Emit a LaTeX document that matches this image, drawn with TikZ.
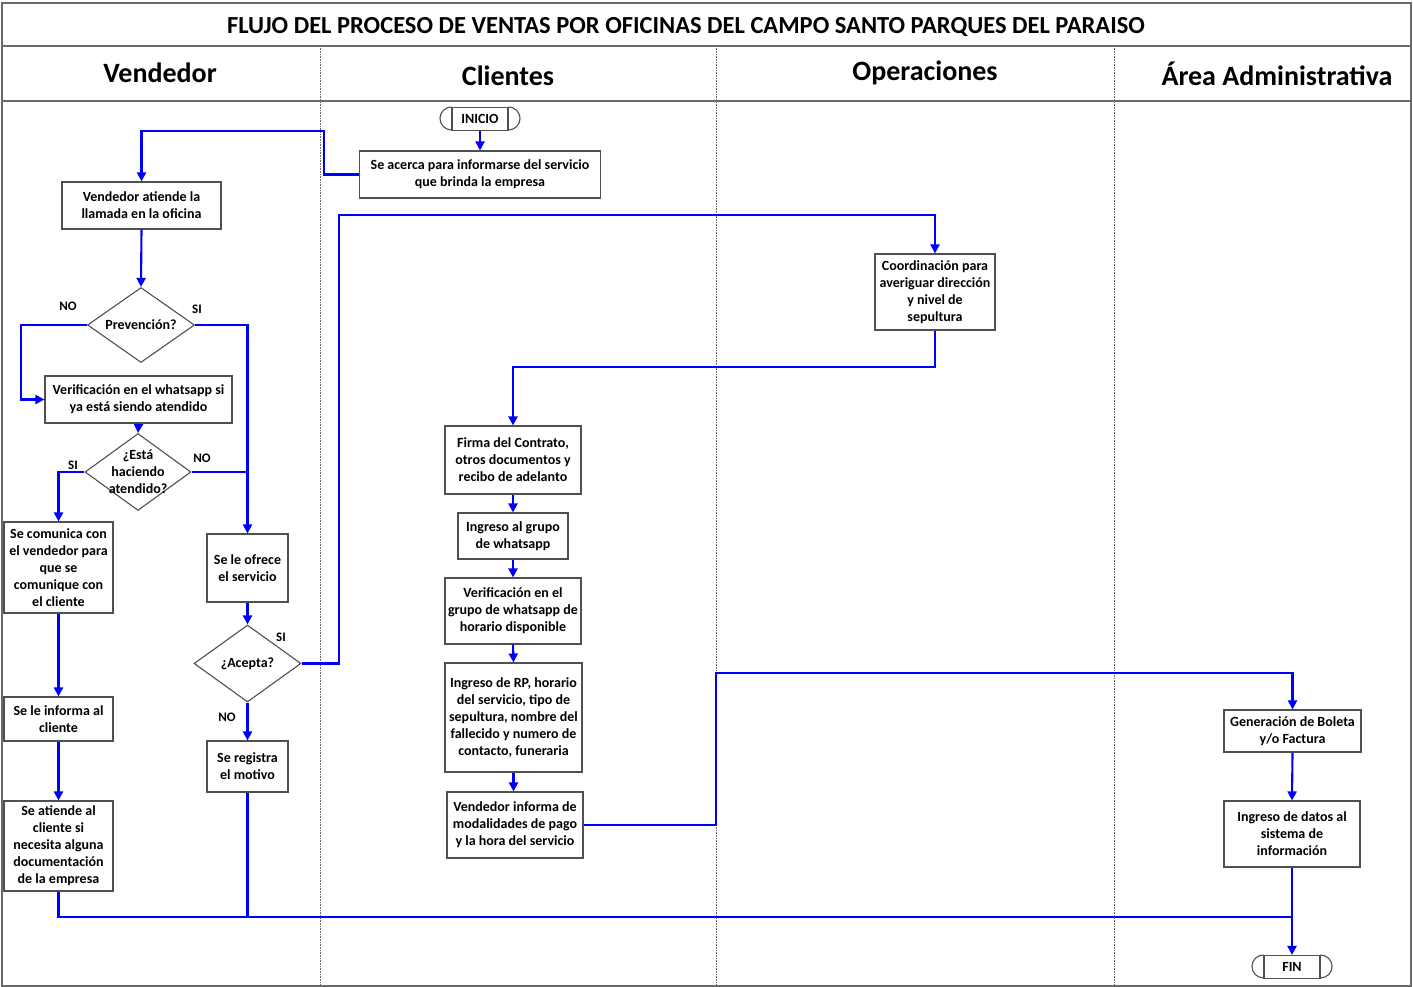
\documentclass[tikz,border=0pt]{standalone}
\usepackage{fontspec}
\setmainfont{Carlito}
\usetikzlibrary{arrows.meta,shapes.geometric}
\definecolor{boxline}{HTML}{505050}
\definecolor{frameline}{HTML}{6A6A6A}
\definecolor{flowblue}{RGB}{0,0,255}
\begin{document}
\begin{tikzpicture}[x=1pt,y=-1pt,
  txt/.style={font=\bfseries\fontsize{14}{17}\selectfont, align=center},
  box/.style={txt, draw=boxline, line width=1.1pt, fill=white, inner sep=0pt},
  dec/.style={draw=boxline, line width=1.1pt, fill=white, diamond, inner sep=0pt},
  term/.style={box, minimum width=56, minimum height=23},
  termcap/.style={draw=boxline, line width=1.1pt},
  lab/.style={font=\bfseries\fontsize{13}{15}\selectfont},
  head/.style={font=\bfseries\fontsize{28}{32}\selectfont},
  conn/.style={draw=flowblue, line width=2.1pt},
  arr/.style={conn, -{Triangle[length=9pt,width=9pt]}},
  lane/.style={draw=frameline, line width=0.6pt, densely dotted},
]
\useasboundingbox (0,0) rectangle (1413,987);

% frame, title row and lane headers
\draw[frameline, line width=1.2pt] (2,3) rectangle (1411,986);
\draw[frameline, line width=1.2pt] (2,46) -- (1411,46);
\draw[frameline, line width=1.2pt] (2,101) -- (1411,101);
\foreach \lx in {320,716,1114} \draw[lane] (\lx,46) -- (\lx,986);
\node[font=\bfseries\fontsize{24.5}{28}\selectfont] (title) at (686,27) {FLUJO DEL PROCESO DE VENTAS POR OFICINAS DEL CAMPO SANTO PARQUES DEL PARAISO};
\node[head] (hven) at (160,73) {Vendedor};
\node[head] (hcli) at (508,76) {Clientes};
\node[head] (hope) at (925,73) {Operaciones};
\node[head] (hadm) at (1277,74) {Área Administrativa};

% terminators: box with half-round caps on both sides
\node[term] (ini) at (480,119) {INICIO};
\draw[termcap] (ini.north west) arc[start angle=270,end angle=90,radius=11.5];
\draw[termcap] (ini.north east) arc[start angle=-90,end angle=90,radius=11.5];
\node[term] (fin) at (1292,967) {FIN};
\draw[termcap] (fin.north west) arc[start angle=270,end angle=90,radius=11.5];
\draw[termcap] (fin.north east) arc[start angle=-90,end angle=90,radius=11.5];

% process boxes
\node[box, minimum width=241, minimum height=47] (aca) at (480,174.5) {Se acerca para informarse del servicio\\que brinda la empresa};
\node[box, minimum width=159, minimum height=47] (ven) at (141.5,205.5) {Vendedor atiende la\\llamada en la oficina};
\node[box, minimum width=187, minimum height=47] (wsp) at (138.5,399.5) {Verificación en el whatsapp si\\ya está siendo atendido};
\node[box, minimum width=109, minimum height=91] (com) at (58.5,567.5) {Se comunica con\\el vendedor para\\que se\\comunique con\\el cliente};
\node[box, minimum width=81, minimum height=68] (ofr) at (247.5,568) {Se le ofrece\\el servicio};
\node[box, minimum width=81, minimum height=51] (reg) at (247.5,766.5) {Se registra\\el motivo};
\node[box, minimum width=109, minimum height=44] (inf) at (58.5,719) {Se le informa al\\cliente};
\node[box, minimum width=109, minimum height=90] (ate) at (58.5,846) {Se atiende al\\cliente si\\necesita alguna\\documentación\\de la empresa};
\node[box, minimum width=120, minimum height=76] (coo) at (935,292) {Coordinación para\\averiguar dirección\\y nivel de\\sepultura};
\node[box, minimum width=136, minimum height=68] (fir) at (513,460) {Firma del Contrato,\\otros documentos y\\recibo de adelanto};
\node[box, minimum width=110, minimum height=46] (gru) at (513,536) {Ingreso al grupo\\de whatsapp};
\node[box, minimum width=136, minimum height=66] (vgr) at (513,611) {Verificación en el\\grupo de whatsapp de\\horario disponible};
\node[box, minimum width=137, minimum height=109] (rp) at (513.5,717.5) {Ingreso de RP, horario\\del servicio, tipo de\\sepultura, nombre del\\fallecido y numero de\\contacto, funeraria};
\node[box, minimum width=136, minimum height=66] (vin) at (515,825) {Vendedor informa de\\modalidades de pago\\y la hora del servicio};
\node[box, minimum width=137, minimum height=42] (gen) at (1292.5,731) {Generación de Boleta\\y/o Factura};
\node[box, minimum width=136, minimum height=66] (dat) at (1292,834) {Ingreso de datos al\\sistema de\\información};

% decisions
\node[dec, minimum width=107, minimum height=75, label={[txt]center:Prevención?}] (prev) at (141,325) {};
\node[dec, minimum width=106, minimum height=77, label={[txt]center:{¿Está\\haciendo\\atendido?}}] (est) at (138,472) {};
\node[dec, minimum width=107, minimum height=77, label={[txt]center:¿Acepta?}] (acp) at (247.5,663.5) {};

% branch labels
\node[lab] (l1) at (68,306) {NO};
\node[lab] (l2) at (197,309) {SI};
\node[lab] (l3) at (73,465) {SI};
\node[lab] (l4) at (202,458) {NO};
\node[lab] (l5) at (281,637) {SI};
\node[lab] (l6) at (227,717) {NO};

% connectors
\coordinate (j) at (1292,917);
\draw[arr] (ini.south) -- (aca.north);
\draw[arr] (aca.west) -| (324,131) -| (ven.north);
\draw[arr] (ven.south) -- (prev.north);
\draw[arr] (prev.west) -- (21,325) |- (wsp.west);
\draw[arr] (prev.east) -| (ofr.north);
\draw[arr] (wsp.south) -- (est.north);
\draw[arr] (est.west) -| (com.north);
\draw[conn] (est.east) -- (est.east -| ofr.north);
\draw[arr] (com.south) -- (inf.north);
\draw[arr] (inf.south) -- (ate.north);
\draw[arr] (ofr.south) -- (acp.north);
\draw[arr] (acp.south) -- (reg.north);
\draw[arr] (acp.east) -| (339,215) -| (coo.north);
\draw[arr] (coo.south) |- (513,367) -- (fir.north);
\draw[arr] (fir.south) -- (gru.north);
\draw[arr] (gru.south) -- (vgr.north);
\draw[arr] (vgr.south) -- (rp.north);
\draw[arr] (rp.south) -- (rp.south |- vin.north);
\draw[arr] (vin.east) -| (716,673) -| (gen.north);
\draw[arr] (gen.south) -- (dat.north);
\draw[conn] (ate.south) |- (j);
\draw[conn] (reg.south) -- (reg.south |- j);
\draw[arr] (dat.south) -- (fin.north);
\end{tikzpicture}
\end{document}
